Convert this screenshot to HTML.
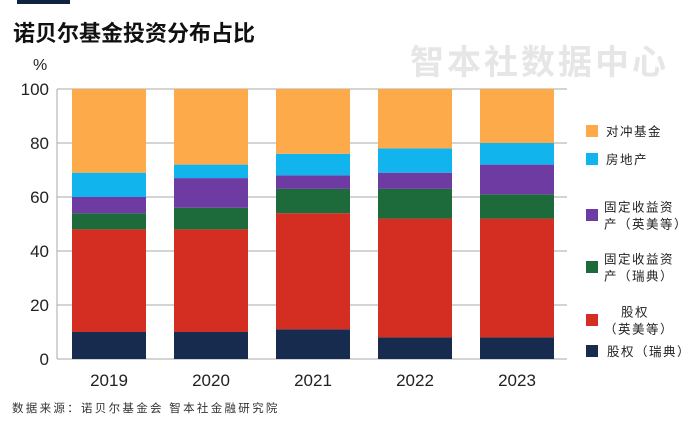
<!DOCTYPE html>
<html><head><meta charset="utf-8"><style>
body{margin:0;background:#fff;}
svg{display:block;font-family:"Liberation Sans","Noto Sans CJK SC",sans-serif;}
</style></head><body>
<svg id="c" width="700" height="423">
<rect x="17" y="0" width="53" height="4" fill="#0f2340"/>
<text x="13" y="41" font-size="22" font-weight="bold" fill="#111">诺贝尔基金投资分布占比</text>
<text x="410" y="74" font-size="34" font-weight="bold" fill="#e6e6e6" letter-spacing="3">智本社数据中心</text>
<text x="33" y="70" font-size="16" fill="#222">%</text>
<g id="grid"></g><g id="bars"></g><g id="ticks"></g><g id="legend"></g>
<text x="12" y="412" font-size="11.5" fill="#333" letter-spacing="2.3">数据来源：诺贝尔基金会 智本社金融研究院</text>
</svg>
<script>
const years=["2019","2020","2021","2022","2023"];
const equitySweden=[10,10,11,8,8];
const equityUS=[38,38,43,44,44];
const fixedSweden=[6,8,9,11,9];
const fixedUS=[6,11,5,6,11];
const realEstate=[9,5,8,9,8];
const hedgeFunds=[31,28,24,22,20];
const yTicks=[0,20,40,60,80,100];
const seriesNames=["股权（瑞典）","股权（英美等）","固定收益资产（瑞典）","固定收益资产（英美等）","房地产","对冲基金"];
const colors=["#172b4f","#d42e23","#1d6b3a","#6e3ba3","#11b4ec","#fdaa4a"];
const series=[equitySweden,equityUS,fixedSweden,fixedUS,realEstate,hedgeFunds];
const NS="http://www.w3.org/2000/svg";
const x0=57,x1=567,y0=359,yTop=89;
const y=v=>y0-(v/100)*(y0-yTop);
const pitch=(x1-x0)/years.length,bw=74;
const xc=i=>x0+pitch*i+pitch/2+1;
function mk(tag,attrs,parent){const e=document.createElementNS(NS,tag);for(const k in attrs)e.setAttribute(k,attrs[k]);parent.appendChild(e);return e;}
const g=document.getElementById('grid'),b=document.getElementById('bars'),t=document.getElementById('ticks'),L=document.getElementById('legend');
yTicks.forEach(v=>{
 const l=mk('line',{x1:x0,x2:x1,y1:y(v),y2:y(v),stroke:'#aaa','stroke-width':1},g);
 
 
 const tx=mk('text',{x:49,y:y(v)+6,'text-anchor':'end','font-size':17,fill:'#222'},t);
 tx.textContent=v;
 
 
});
const ax=mk('line',{x1:x0,x2:x0,y1:yTop,y2:y0,stroke:'#aaa'},g);


years.forEach((yr,i)=>{
 let acc=0;
 series.forEach((s,k)=>{
  const r=mk('rect',{x:xc(i)-bw/2,y:y(acc+s[i]),width:bw,height:y(acc)-y(acc+s[i]),fill:colors[k]},b);
  
  
  acc+=s[i];
 });
 const tx=mk('text',{x:xc(i),y:386,'text-anchor':'middle','font-size':17,fill:'#222'},t);
 tx.textContent=yr;
 
 
});
const leg=[
 {c:5,y:132,lines:["对冲基金"],tx:606},
 {c:4,y:160,lines:["房地产"],tx:606},
 {c:3,y:216,lines:["固定收益资","产（英美等）"],tx:604},
 {c:2,y:268,lines:["固定收益资","产（瑞典）"],tx:604},
 {c:1,y:321,lines:["股权","（英美等）"],tx:604},
 {c:0,y:352,lines:["股权（瑞典）"],tx:607}
];
leg.forEach((d,j)=>{
 const r=mk('rect',{x:586,y:d.y-7,width:12,height:12,fill:colors[d.c]},L);
 
 
 d.lines.forEach((ln,m)=>{
  const n=d.lines.length;
  const yy=d.y+4+(m-(n-1)/2)*17;
  const x=(d.c==1&&m==0)?621:d.tx;
  const tx=mk('text',{x:x,y:yy,'font-size':12.5,fill:'#222','letter-spacing':1.5},L);
  tx.textContent=ln;
  
  
 });
});
</script>
</body></html>
